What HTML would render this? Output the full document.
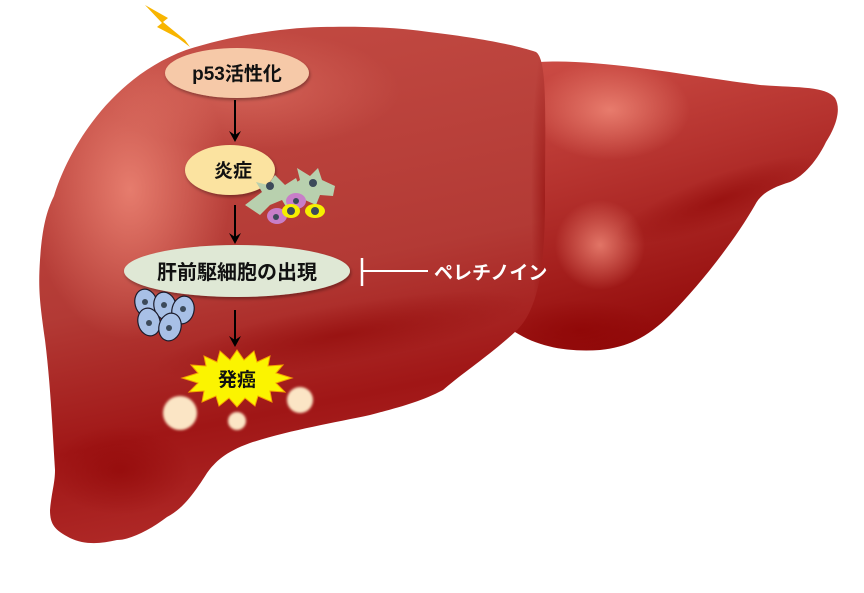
<!DOCTYPE html>
<html><head><meta charset="utf-8"><style>
html,body{margin:0;padding:0;background:#fff;}
svg{display:block;}
text{font-family:"Liberation Sans","Noto Sans CJK JP",sans-serif;font-weight:bold;}
</style></head><body>
<svg width="864" height="593" viewBox="0 0 864 593" xmlns="http://www.w3.org/2000/svg">
<defs>
<linearGradient id="rl" x1="0" y1="0" x2="0.3" y2="1">
<stop offset="0" stop-color="#cf5048"/><stop offset="0.45" stop-color="#b5322e"/><stop offset="1" stop-color="#900808"/>
</linearGradient>
<linearGradient id="ml" x1="0" y1="0" x2="0.2" y2="1">
<stop offset="0" stop-color="#c44c44"/><stop offset="0.55" stop-color="#b33a35"/><stop offset="0.8" stop-color="#a01616"/><stop offset="1" stop-color="#b02a28"/>
</linearGradient>
<radialGradient id="hl" cx="0.5" cy="0.5" r="0.5">
<stop offset="0" stop-color="#f5907e" stop-opacity="0.75"/><stop offset="1" stop-color="#f5907e" stop-opacity="0"/>
</radialGradient>
<radialGradient id="dk" cx="0.5" cy="0.5" r="0.5">
<stop offset="0" stop-color="#8a0000" stop-opacity="0.5"/><stop offset="1" stop-color="#8a0000" stop-opacity="0"/>
</radialGradient>
<filter id="bl"><feGaussianBlur stdDeviation="1.2"/></filter>
<filter id="sh"><feDropShadow dx="1" dy="2" stdDeviation="1.5" flood-opacity="0.35"/></filter>
<clipPath id="mc"><path d="M186,50 C230,36 280,28 321,27 C370,26 400,28 429,32 C480,38 515,45 536,52 C548,60 545,120 545,200 C545,260 540,310 515,332 C490,355 460,375 443,390 C420,402 400,407 370,415 C333,423 290,430 250,443 C225,452 215,462 207,473 C190,500 180,510 167,517 C150,530 130,540 117,540 C100,544 85,545 70,538 C55,530 50,525 50,510 C52,490 55,483 55,470 C52,420 50,380 45,340 C40,304 38,290 40,260 C42,230 46,212 54,196 C68,150 110,78 186,50 Z"/></clipPath>
<clipPath id="rc"><path d="M540,62 C600,58 700,78 760,85 C800,88 825,86 835,98 C842,110 835,128 826,142 C815,165 800,178 790,182 C770,188 760,195 755,205 C735,240 700,285 670,315 C650,335 630,347 600,350 C570,352 540,348 515,332 L520,70 Z"/></clipPath>
</defs>
<g clip-path="url(#rc)">
<rect x="500" y="50" width="360" height="310" fill="url(#rl)"/>
<ellipse cx="610" cy="110" rx="80" ry="50" fill="url(#hl)"/>
<ellipse cx="600" cy="245" rx="45" ry="45" fill="url(#hl)"/>
<ellipse cx="720" cy="200" rx="110" ry="25" fill="url(#dk)" transform="rotate(-20 720 200)"/>
<ellipse cx="580" cy="330" rx="80" ry="30" fill="url(#dk)"/>
</g>
<g clip-path="url(#mc)">
<rect x="30" y="20" width="530" height="530" fill="url(#ml)"/>
<ellipse cx="130" cy="190" rx="100" ry="150" fill="url(#hl)"/>
<ellipse cx="250" cy="90" rx="150" ry="60" fill="url(#hl)" opacity="0.5"/>
<ellipse cx="340" cy="335" rx="190" ry="30" fill="url(#dk)" transform="rotate(-10 340 335)"/>
<ellipse cx="120" cy="470" rx="70" ry="45" fill="url(#dk)"/>
<ellipse cx="545" cy="200" rx="14" ry="160" fill="url(#dk)"/>
</g>
<polygon points="145,5 168,18 163,22 185,40 190,47 178,38 157,27 162,23" fill="#f8b500"/>
<ellipse cx="237" cy="73" rx="72" ry="25" fill="#f6c9a8" filter="url(#sh)"/>
<text x="237" y="80" font-size="19" text-anchor="middle" fill="#111">p53活性化</text>
<line x1="235" y1="100" x2="235" y2="135" stroke="#000" stroke-width="2"/>
<polygon points="229,131 235,142 241,131 235,135" fill="#000"/>
<ellipse cx="230" cy="170" rx="45" ry="25" fill="#fbe3a0" filter="url(#sh)"/>
<text x="233" y="177" font-size="19" text-anchor="middle" fill="#111">炎症</text>
<g fill="#b8d0ae">
<path d="M245,205 L262,192 L256,182 L268,185 L275,175 L285,185 L296,178 L300,188 L290,196 L300,205 L288,210 L282,200 L270,205 L260,215 Z"/>
<path d="M285,190 L300,180 L297,168 L310,176 L318,168 L322,180 L335,186 L333,196 L320,195 L316,205 L305,200 Z"/>
</g>
<circle cx="270" cy="186" r="4" fill="#3c4a5a"/><circle cx="313" cy="183" r="4" fill="#3c4a5a"/>
<ellipse cx="296" cy="201" rx="10" ry="8" fill="#c87ec8"/><circle cx="296" cy="201" r="3" fill="#3c4a5a"/>
<ellipse cx="277" cy="216" rx="10" ry="8" fill="#c87ec8"/><circle cx="276" cy="217" r="3" fill="#3c4a5a"/>
<ellipse cx="291" cy="211" rx="9" ry="7" fill="#f5f000"/><circle cx="291" cy="211" r="4" fill="#3c4a5a"/>
<ellipse cx="315" cy="211" rx="10" ry="7" fill="#f5f000"/><circle cx="315" cy="211" r="4" fill="#3c4a5a"/>
<line x1="235" y1="205" x2="235" y2="237" stroke="#000" stroke-width="2"/>
<polygon points="229,233 235,244 241,233 235,237" fill="#000"/>
<ellipse cx="237" cy="271" rx="113" ry="26" fill="#dfe8d5" filter="url(#sh)"/>
<text x="237" y="279" font-size="20" text-anchor="middle" fill="#111">肝前駆細胞の出現</text>
<line x1="362" y1="258" x2="362" y2="286" stroke="#fff" stroke-width="2.5"/>
<line x1="362" y1="271" x2="428" y2="271" stroke="#fff" stroke-width="2"/>
<text x="434" y="279" font-size="19" fill="#fff">ペレチノイン</text>
<g fill="#a8c0e6" stroke="#1a1a2a" stroke-width="1.2">
<ellipse cx="146" cy="303" rx="11" ry="14" transform="rotate(-15 146 303)"/>
<ellipse cx="165" cy="306" rx="11" ry="14" transform="rotate(-15 165 306)"/>
<ellipse cx="183" cy="310" rx="11" ry="14" transform="rotate(15 183 310)"/>
<ellipse cx="149" cy="322" rx="11" ry="14" transform="rotate(-15 149 322)"/>
<ellipse cx="170" cy="327" rx="11" ry="14" transform="rotate(15 170 327)"/>
</g>
<g fill="#3c4a5a"><circle cx="145" cy="302" r="3"/><circle cx="164" cy="305" r="3"/><circle cx="183" cy="309" r="3"/><circle cx="149" cy="323" r="3"/><circle cx="169" cy="328" r="3"/></g>
<line x1="235" y1="310" x2="235" y2="340" stroke="#000" stroke-width="2"/>
<polygon points="229,336 235,347 241,336 235,340" fill="#000"/>
<polygon points="237,350 244,360 254,351 257,362 270,356 268,366 283,365 276,373 292,378 276,383 285,392 270,391 272,402 258,396 255,406 245,398 237,407 229,398 219,406 216,396 202,402 204,391 189,392 198,383 182,378 198,373 191,365 206,366 204,356 217,362 220,351 230,360" fill="#fbf400" stroke="#f5a000" stroke-width="1"/>
<text x="237" y="386" font-size="19" text-anchor="middle" fill="#111">発癌</text>
<g fill="#fbe5c5" filter="url(#bl)">
<circle cx="180" cy="413" r="17"/>
<circle cx="237" cy="421" r="9"/>
<circle cx="300" cy="400" r="13"/>
</g>
</svg>
</body></html>
